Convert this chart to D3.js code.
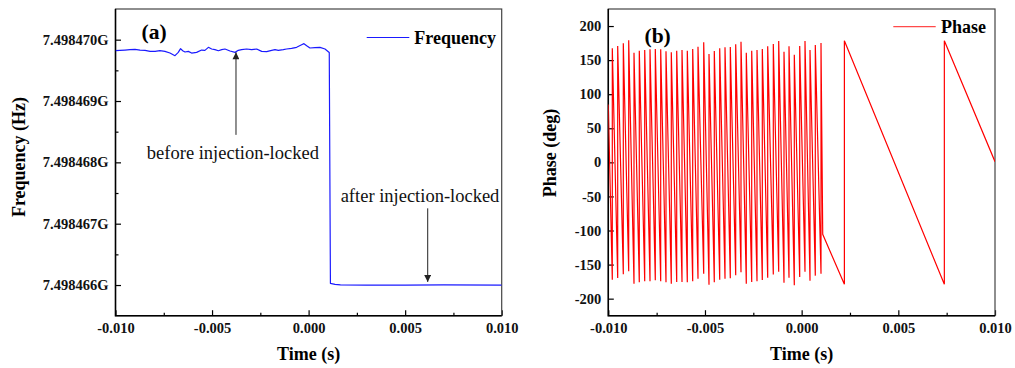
<!DOCTYPE html>
<html>
<head>
<meta charset="utf-8">
<script src="https://cdn.jsdelivr.net/npm/d3@7"></script>
<style>
  body { margin: 0; background: #fff; }
  svg { display: block; font-family: "Liberation Serif", "Times New Roman", serif; }
  .tick text { font-weight: bold; }
</style>
</head>
<body>
<div id="chart"></div>
<script>
// ---- data ----
const timeTicks = [-0.010, -0.005, 0.000, 0.005, 0.010];
const timeMinorTicks = [-0.0075, -0.0025, 0.0025, 0.0075];
const freqTicks = [7498466000, 7498467000, 7498468000, 7498469000, 7498470000];
const freqMinorTicks = [7498466500, 7498467500, 7498468500, 7498469500];
const phaseTicks = [-200, -150, -100, -50, 0, 50, 100, 150, 200];

// panel (a): frequency vs time
const freqTime = [-0.0100, -0.00977, -0.00951, -0.00925, -0.00899, -0.00873, -0.00847, -0.00821,
  -0.00795, -0.00770, -0.00744, -0.00718, -0.00692, -0.00675, -0.00663, -0.00652, -0.00640,
  -0.00623, -0.00606, -0.00580, -0.00554, -0.00537, -0.00519, -0.00502, -0.00485, -0.00467,
  -0.00450, -0.00433, -0.00407, -0.00381, -0.00364, -0.00347, -0.00321, -0.00295, -0.00269,
  -0.00243, -0.00217, -0.00191, -0.00174, -0.00157, -0.00131, -0.00114, -0.00088, -0.00062,
  -0.00036, -0.00024, -0.00010, 0.00007, 0.00033, 0.00059, 0.00085, 0.00102, 0.00107,
  0.00113, 0.00137, 0.00165, 0.0030, 0.0050, 0.0070, 0.0100];
const freqHz = [7498469820, 7498469826, 7498469831, 7498469837, 7498469842, 7498469831, 7498469826, 7498469809,
  7498469809, 7498469820, 7498469809, 7498469782, 7498469739, 7498469793, 7498469853, 7498469820, 7498469799,
  7498469809, 7498469782, 7498469793, 7498469831, 7498469826, 7498469875, 7498469848, 7498469837, 7498469820,
  7498469837, 7498469848, 7498469815, 7498469793, 7498469826, 7498469837, 7498469848, 7498469837, 7498469848,
  7498469809, 7498469804, 7498469826, 7498469837, 7498469826, 7498469837, 7498469848, 7498469858, 7498469875,
  7498469918, 7498469935, 7498469902, 7498469864, 7498469869, 7498469875, 7498469848, 7498469804, 7498469790,
  7498466028, 7498466011, 7498466002, 7498466000, 7498465998, 7498466001, 7498466000];

// panel (b): phase sawtooth, wrap instants with the sample just before / after the wrap
const phaseHeadTime = [-0.0100];
const phaseHeadValue = [85];
const phaseWrapTime = [-0.009793, -0.009514, -0.009224, -0.008945, -0.008671, -0.008397, -0.008117, -0.007843,
  -0.007569, -0.007290, -0.007016, -0.006742, -0.006462, -0.006188, -0.005914, -0.005635, -0.005361, -0.005066,
  -0.004792, -0.004518, -0.004238, -0.003964, -0.003690, -0.003411, -0.003137, -0.002863, -0.002583, -0.002309,
  -0.002035, -0.001756, -0.001466, -0.001187, -0.000913, -0.000654, -0.000380, -0.000101, 0.000173, 0.000432,
  0.000706, 0.001001];
const phaseWrapLow = [-172.2, -169.7, -164.3, -159.9, -178.0, -176.0, -174.5, -174.5, -173.1, -174.5,
  -176.0, -178.0, -175.5, -175.5, -176.0, -174.5, -170.7, -163.3, -179.5, -176.0,
  -172.2, -170.7, -170.2, -165.8, -161.4, -178.0, -175.5, -174.5, -172.6, -169.2,
  -164.7, -160.4, -176.5, -169.2, -180.4, -168.2, -160.4, -173.6, -166.2, -163.3];
const phaseWrapHigh = [167.3, 170.7, 174.6, 179.0, 160.9, 163.9, 164.8, 165.8, 166.3, 165.8,
  162.9, 161.4, 163.9, 164.8, 163.9, 166.3, 169.7, 176.1, 158.9, 163.4,
  167.3, 168.8, 169.2, 173.2, 177.0, 160.9, 163.8, 164.8, 166.3, 170.2,
  173.6, 178.0, 162.3, 170.2, 158.0, 170.7, 178.0, 164.8, 172.3, 175.2];
const phaseTailTime = [0.00109, 0.00221, 0.00221, 0.00738, 0.00738, 0.0100];
const phaseTailValue = [-105.6, -179.0, 178.5, -179.0, 178.5, 1.0];

// annotation arrows in panel (a), in data units
const notes = [
  {text: "before injection-locked", tx: -0.00392, ty: 7498468047, x: -0.00376, from: 7498468448, to: 7498469793},
  {text: "after injection-locked", tx: 0.00577, ty: 7498467353, x: 0.006168, from: 7498467250, to: 7498466051}
];

// ---- layout ----
const width = 1015, height = 368;
const pA = {left: 115.5, right: 501.7, top: 9, bottom: 315.7};
const pB = {left: 608.3, right: 995, top: 9, bottom: 315.7};

const svg = d3.select("#chart").append("svg")
    .attr("width", width)
    .attr("height", height);

const defs = svg.append("defs");
defs.append("marker")
    .attr("id", "arrow")
    .attr("viewBox", "0 0 10 10")
    .attr("refX", 10).attr("refY", 5)
    .attr("markerWidth", 9).attr("markerHeight", 7)
    .attr("markerUnits", "userSpaceOnUse")
    .attr("orient", "auto")
  .append("path")
    .attr("d", "M0,0 L10,5 L0,10 z")
    .attr("fill", "#222");

const xA = d3.scaleLinear().domain([-0.01, 0.01]).range([pA.left, pA.right]);
const yA = d3.scaleLinear().domain([7498465500, 7498470500]).range([pA.bottom, pA.top]);
const xB = d3.scaleLinear().domain([-0.01, 0.01]).range([pB.left, pB.right]);
const yB = d3.scaleLinear().domain([-225, 225]).range([pB.bottom, pB.top]);

// plain hyphen minus like the original, not U+2212
const timeFormat = d => d3.format(".3f")(d).replace("\u2212", "-");
const phaseFormat = d => d3.format("d")(d).replace("\u2212", "-");

function styleAxis(g) {
  g.attr("font-size", 14.5)
   .attr("font-family", null)
   .attr("font-weight", "bold");
  g.select(".domain").remove();
  g.selectAll(".tick line").attr("stroke-width", 1.2);
  g.selectAll(".tick text").attr("font-weight", "bold").attr("fill", "#111");
}

function drawPanel(p, x, y, yTicks, yMinor, yFormat, clipId) {
  defs.append("clipPath").attr("id", clipId)
    .append("rect")
      .attr("x", p.left).attr("y", p.top)
      .attr("width", p.right - p.left).attr("height", p.bottom - p.top);

  svg.append("g")
      .attr("transform", `translate(0,${p.bottom})`)
      .call(d3.axisBottom(x).tickValues(timeTicks).tickFormat(timeFormat)
        .tickSizeInner(-5.5).tickSizeOuter(0).tickPadding(7))
      .call(styleAxis);

  svg.append("g")
      .attr("transform", `translate(0,${p.bottom})`)
      .call(d3.axisBottom(x).tickValues(timeMinorTicks).tickFormat("")
        .tickSizeInner(-3).tickSizeOuter(0))
      .call(styleAxis);

  svg.append("g")
      .attr("transform", `translate(${p.left},0)`)
      .call(d3.axisLeft(y).tickValues(yTicks).tickFormat(yFormat)
        .tickSizeInner(-5.5).tickSizeOuter(0).tickPadding(7))
      .call(styleAxis);

  if (yMinor.length) {
    svg.append("g")
        .attr("transform", `translate(${p.left},0)`)
        .call(d3.axisLeft(y).tickValues(yMinor).tickFormat("")
          .tickSizeInner(-3).tickSizeOuter(0))
        .call(styleAxis);
  }

  // frame: dark top/right, black axes
  svg.append("rect")
      .attr("x", p.left).attr("y", p.top)
      .attr("width", p.right - p.left).attr("height", p.bottom - p.top)
      .attr("fill", "none")
      .attr("stroke", "#444")
      .attr("stroke-width", 1.2);
  svg.append("path")
      .attr("d", `M${p.left},${p.top}V${p.bottom}H${p.right}`)
      .attr("fill", "none")
      .attr("stroke", "#000")
      .attr("stroke-width", 1.5);

  svg.append("text")
      .attr("x", (p.left + p.right) / 2)
      .attr("y", 360)
      .attr("text-anchor", "middle")
      .attr("font-size", 18)
      .attr("font-weight", "bold")
      .text("Time (s)");
}

// ---- panel (a) ----
drawPanel(pA, xA, yA, freqTicks, freqMinorTicks, d => (d / 1e9).toFixed(6) + "G", "clipA");

const freqLine = d3.line()
    .x((d, i) => xA(freqTime[i]))
    .y(d => yA(d));

svg.append("path")
    .datum(freqHz)
    .attr("clip-path", "url(#clipA)")
    .attr("d", freqLine)
    .attr("fill", "none")
    .attr("stroke", "#1a1aff")
    .attr("stroke-width", 1.2)
    .attr("stroke-linejoin", "round");

svg.append("text")
    .attr("transform", `translate(24.5,157) rotate(-90)`)
    .attr("text-anchor", "middle")
    .attr("font-size", 18)
    .attr("font-weight", "bold")
    .text("Frequency (Hz)");

svg.append("text")
    .attr("x", 141.5).attr("y", 38.5)
    .attr("font-size", 21.5)
    .attr("font-weight", "bold")
    .text("(a)");

svg.append("line")
    .attr("x1", 366.7).attr("x2", 409.3)
    .attr("y1", 37.5).attr("y2", 37.5)
    .attr("stroke", "#1a1aff")
    .attr("stroke-width", 1.2);
svg.append("text")
    .attr("x", 414.3).attr("y", 44)
    .attr("font-size", 18)
    .attr("font-weight", "bold")
    .text("Frequency");

notes.forEach(n => {
  svg.append("line")
      .attr("x1", xA(n.x)).attr("x2", xA(n.x))
      .attr("y1", yA(n.from)).attr("y2", yA(n.to))
      .attr("stroke", "#222")
      .attr("stroke-width", 1)
      .attr("marker-end", "url(#arrow)");
  svg.append("text")
      .attr("x", xA(n.tx)).attr("y", yA(n.ty))
      .attr("text-anchor", "middle")
      .attr("font-size", 18.5)
      .attr("fill", "#111")
      .text(n.text);
});

// ---- panel (b) ----
drawPanel(pB, xB, yB, phaseTicks, [], phaseFormat, "clipB");

// assemble sawtooth vertices: head, then for each wrap low->high, then tail
const phasePts = [];
phaseHeadTime.forEach((t, i) => phasePts.push([t, phaseHeadValue[i]]));
phaseWrapTime.forEach((t, i) => {
  phasePts.push([t, phaseWrapLow[i]]);
  phasePts.push([t, phaseWrapHigh[i]]);
});
phaseTailTime.forEach((t, i) => phasePts.push([t, phaseTailValue[i]]));

svg.append("path")
    .datum(phasePts)
    .attr("clip-path", "url(#clipB)")
    .attr("d", d3.line().x(d => xB(d[0])).y(d => yB(d[1])))
    .attr("fill", "none")
    .attr("stroke", "#ff0000")
    .attr("stroke-width", 1.2)
    .attr("stroke-linejoin", "miter");

svg.append("text")
    .attr("transform", `translate(556,153) rotate(-90)`)
    .attr("text-anchor", "middle")
    .attr("font-size", 18)
    .attr("font-weight", "bold")
    .text("Phase (deg)");

svg.append("text")
    .attr("x", 644.5).attr("y", 42.5)
    .attr("font-size", 21.5)
    .attr("font-weight", "bold")
    .text("(b)");

svg.append("line")
    .attr("x1", 893.3).attr("x2", 935.7)
    .attr("y1", 26.7).attr("y2", 26.7)
    .attr("stroke", "#ff4a4a")
    .attr("stroke-width", 1.2);
svg.append("text")
    .attr("x", 941).attr("y", 33)
    .attr("font-size", 18)
    .attr("font-weight", "bold")
    .text("Phase");
</script>
</body>
</html>
